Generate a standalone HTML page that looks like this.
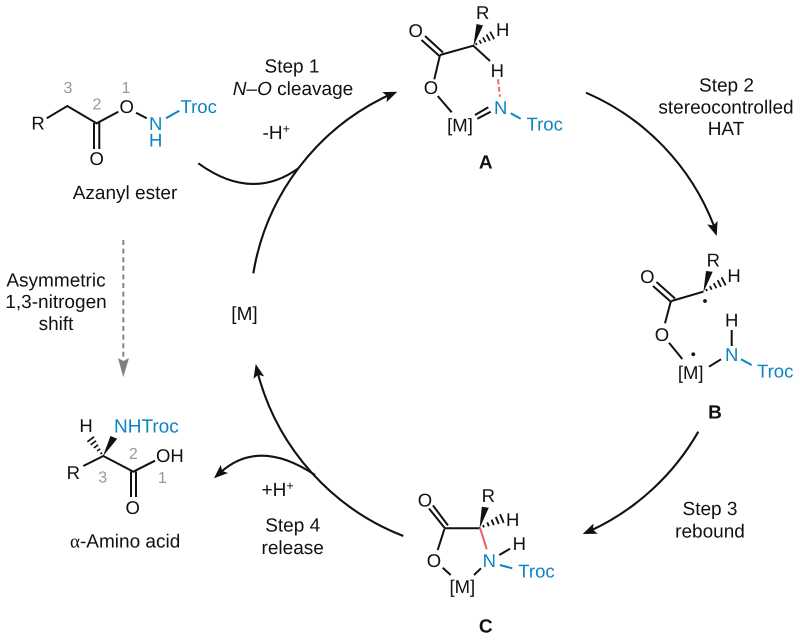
<!DOCTYPE html>
<html>
<head>
<meta charset="utf-8">
<style>
html,body{margin:0;padding:0;background:#fff;width:800px;height:640px;overflow:hidden}
svg{display:block}
text{font-family:"Liberation Sans",Arial,sans-serif;font-size:18.5px;fill:#111;text-rendering:geometricPrecision}
.m{text-anchor:middle}
.t{font-size:19px}
.b{fill:#0b84c4}
.g{fill:#999;font-size:16px;text-anchor:middle}
.l{stroke:#111;stroke-width:2;fill:none}
.u{stroke:#0b84c4;stroke-width:2;fill:none}
.a{stroke:#111;stroke-width:2.1;fill:none}
.bold{font-weight:bold;text-anchor:middle;font-size:19px}
</style>
</head>
<body>
<svg width="800" height="640" viewBox="0 0 800 640" xmlns="http://www.w3.org/2000/svg">
<defs>
<g id="h" stroke="#111" stroke-width="1.5">
<line x1="3" y1="-1" x2="3" y2="1"/>
<line x1="7" y1="-1.7" x2="7" y2="1.7"/>
<line x1="11" y1="-2.4" x2="11" y2="2.4"/>
<line x1="15" y1="-3.1" x2="15" y2="3.1"/>
<line x1="19" y1="-3.8" x2="19" y2="3.8"/>
</g>
</defs>
<!-- cycle arrows -->
<path class="a" d="M253.3,273.3 A240,240 0 0 1 388,95.5"/>
<polygon points="0,0 -14,-5.5 -11,0 -14,5.5" transform="translate(397.3,91.7) rotate(-23)" fill="#111"/>
<path class="a" d="M586,92.7 A238,238 0 0 1 714,226"/>
<polygon points="0,0 -14,-5.5 -11,0 -14,5.5" transform="translate(716.7,236) rotate(72)" fill="#111"/>
<path class="a" d="M698.3,431.7 A241,241 0 0 1 592,530"/>
<polygon points="0,0 -14,-5.5 -11,0 -14,5.5" transform="translate(582.7,534) rotate(157.5)" fill="#111"/>
<path class="a" d="M403.3,536 A241,241 0 0 1 258,374"/>
<polygon points="0,0 -14,-5.5 -11,0 -14,5.5" transform="translate(255.7,364) rotate(-103)" fill="#111"/>
<path class="a" d="M198.3,163.3 Q251.7,202 298.3,168.3"/>
<path class="a" d="M315,475 Q259.5,438 221,472"/>
<polygon points="0,0 -14,-5.5 -11,0 -14,5.5" transform="translate(214,478.3) rotate(138)" fill="#111"/>
<line x1="123.3" y1="240" x2="123.3" y2="360" stroke="#808080" stroke-width="1.9" stroke-dasharray="5 3.6"/>
<polygon points="118,358 123.3,361 129,358 123.3,377.3" fill="#808080"/>

<!-- Azanyl ester -->
<path class="l" d="M46.7,118.3 L67.3,106 L96.7,123.3 L118.3,111.7 M136,112.7 L146.7,118.3 M94,123 V149 M99.3,123 V149"/>
<path class="u" d="M166,118.3 L179.3,110.7"/>
<text class="m" x="38" y="129.5">R</text>
<text class="m" x="126.7" y="113.2">O</text>
<text class="m" x="96.7" y="164.8">O</text>
<text class="m b" x="155.7" y="129.8">N</text>
<text class="m b" x="155.7" y="146.5">H</text>
<text class="b" x="180.5" y="113">Troc</text>
<text class="g" x="68" y="93">3</text>
<text class="g" x="97" y="109.5">2</text>
<text class="g" x="126" y="93">1</text>
<text class="m t" x="125" y="199">Azanyl ester</text>

<!-- A -->
<path class="l" d="M421.5,40 L440,56.5 M425,36 L443,52.5 M440,55 L473.3,45.7 L490,61 M440,55 L434.3,79.3 M437.7,96 L451.7,112.3 M475,115 L488.3,107.3 M477.3,118.7 L490.7,111.7"/>
<polygon points="473.3,46.5 476.5,24 483,25.5" fill="#111"/>
<use href="#h" transform="translate(473.3,45.7) rotate(-28.5) scale(1.13)"/>
<path d="M498,79.3 L500,96.7" stroke="#ee6a72" stroke-width="2" stroke-dasharray="5 2.5" fill="none"/>
<path class="u" d="M510.7,113.3 L520.7,118.7"/>
<text class="m" x="415.7" y="37.2">O</text>
<text class="m" x="482.7" y="19.2">R</text>
<text class="m" x="502.7" y="35.8">H</text>
<text class="m" x="497.3" y="77.2">H</text>
<text class="m" x="431" y="94.2">O</text>
<text class="m" x="460" y="131.5">[M]</text>
<text class="m b" x="500.7" y="113.8">N</text>
<text class="b" x="526.5" y="130.7">Troc</text>
<text class="bold" x="485.7" y="168.5">A</text>

<!-- B -->
<path class="l" d="M653,286 L671.7,302.5 M656.5,282 L675,298.5 M671.5,301 L703.3,291.7 M670.7,301.7 L665,323.3 M669,342.7 L682.3,359 M709,366.7 L721,359.3 M731.7,346 V330"/>
<polygon points="703.3,292.5 706,271 712.7,271.7" fill="#111"/>
<use href="#h" transform="translate(703.3,291.7) rotate(-27) scale(1.2)"/>
<circle cx="705" cy="301" r="1.9" fill="#111"/>
<circle cx="693.3" cy="354.3" r="1.9" fill="#111"/>
<path class="u" d="M741,359.3 L751.7,365"/>
<text class="m" x="647.3" y="283.2">O</text>
<text class="m" x="713.3" y="266.5">R</text>
<text class="m" x="734" y="282.2">H</text>
<text class="m" x="662" y="340.8">O</text>
<text class="m" x="690.7" y="378.8">[M]</text>
<text class="m" x="731.7" y="326.5">H</text>
<text class="m b" x="731.7" y="360.8">N</text>
<text class="b" x="757" y="377.3">Troc</text>
<text class="bold" x="715" y="418.5">B</text>

<!-- C -->
<path class="l" d="M429,508.5 L445.5,529 M433,505.5 L448,525.5 M444.5,528.3 H480 M444.3,529.3 L437.7,550 M442.7,567.7 L450.7,575 M474,575 L481,568.3 M499.3,555 L510,548.7"/>
<polygon points="479.5,528.5 481.8,506.7 488.8,507.7" fill="#111"/>
<use href="#h" transform="translate(480,527.7) rotate(-22.9) scale(1.25)"/>
<path d="M480,527.7 L486.7,549.3" stroke="#ee5f68" stroke-width="2" fill="none"/>
<path class="u" d="M500,565 L512.3,568.3"/>
<text class="m" x="425" y="506.5">O</text>
<text class="m" x="488.3" y="502.2">R</text>
<text class="m" x="512.7" y="525.8">H</text>
<text class="m" x="519.3" y="549.8">H</text>
<text class="m" x="434" y="567.2">O</text>
<text class="m" x="462.3" y="593">[M]</text>
<text class="m b" x="489.3" y="567.2">N</text>
<text class="b" x="518.3" y="577.3">Troc</text>
<text class="bold" x="485.7" y="632.5">C</text>

<!-- amino acid -->
<path class="l" d="M83.3,466 L103.3,456 L133.3,471.7 L155,460.7 M131,471.5 V497 M136,471.5 V497"/>
<polygon points="102.8,456.5 110.5,436 117.2,438.8" fill="#111"/>
<use href="#h" transform="translate(103.3,456) rotate(233) scale(1.1)"/>
<text class="m" x="86" y="432.2">H</text>
<text class="b t" x="114" y="432.3">NHTroc</text>
<text class="m" x="73.3" y="479">R</text>
<text x="156" y="462">OH</text>
<text class="m" x="132.7" y="513.8">O</text>
<text class="g" x="133.3" y="459">2</text>
<text class="g" x="102.7" y="482.5">3</text>
<text class="g" x="162.3" y="483">1</text>
<text class="t" x="70" y="547.7"><tspan font-family="Liberation Serif">α</tspan>-Amino acid</text>

<!-- labels -->
<text class="m t" x="292" y="72.3">Step 1</text>
<text class="m t" x="293" y="95"><tspan font-style="italic">N</tspan>–<tspan font-style="italic">O</tspan> cleavage</text>
<text class="t" x="262.5" y="139">-H<tspan font-size="12.5" dy="-6">+</tspan></text>
<text class="m t" x="726.5" y="91.7">Step 2</text>
<text class="m t" x="726" y="113.3">stereocontrolled</text>
<text class="m t" x="726" y="135">HAT</text>
<text class="m t" x="710" y="515">Step 3</text>
<text class="m t" x="710" y="537.7">rebound</text>
<text class="m t" x="292.7" y="531.7">Step 4</text>
<text class="m t" x="292.7" y="554">release</text>
<text class="t" x="261.5" y="496">+H<tspan font-size="12.5" dy="-6">+</tspan></text>
<text class="m t" x="244.5" y="320">[M]</text>
<text class="m t" x="56" y="286.7">Asymmetric</text>
<text class="m t" x="56" y="308">1,3-nitrogen</text>
<text class="m t" x="56" y="330">shift</text>
</svg>
</body>
</html>
